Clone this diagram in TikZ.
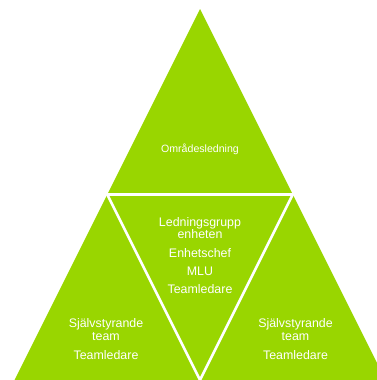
\documentclass[tikz,border=0pt]{standalone}
\usepackage{fontspec}
\setmainfont{Liberation Sans}
\definecolor{lime}{RGB}{153,214,0}

\begin{document}
\begin{tikzpicture}[x=1pt,y=-1pt,
  gap/.style={draw=white,line width=2.6pt,line join=miter},
  lbl/.style={anchor=base,align=center,text=white,inner sep=0pt,font=\fontsize{12.4}{12.5}\selectfont},
  toplbl/.style={lbl,font=\fontsize{10.6}{12}\selectfont}]
 \useasboundingbox (0,0) rectangle (377,380);
 \clip (0,0) rectangle (377,380);
 % outer triangle and the points where it is cut
 \coordinate (apex) at (200,9);
 \coordinate (bl) at (14.5,380);
 \coordinate (br) at (385.5,380);
 \coordinate (ml) at (107.25,194.5);
 \coordinate (mr) at (292.75,194.5);
 \coordinate (mb) at (200,380);
 \fill[lime] (apex)--(br)--(bl)--cycle;
 \draw[gap] (ml)--(mr)--(mb)--cycle;
 % top
 \node[toplbl] (omr) at (200,152.5) {Områdesledning};
 % middle (base = last line)
 \node[lbl] (mid) at (200,293)
   {Ledningsgrupp\\enheten\\[6.5pt]Enhetschef\\[5pt]MLU\\[5.5pt]Teamledare};
 % left and right
 \node[lbl] (left) at (106,359) {Självstyrande\\team\\[6.5pt]Teamledare};
 \node[lbl] (right) at (295.5,359) {Självstyrande\\team\\[6.5pt]Teamledare};
\end{tikzpicture}
\end{document}
